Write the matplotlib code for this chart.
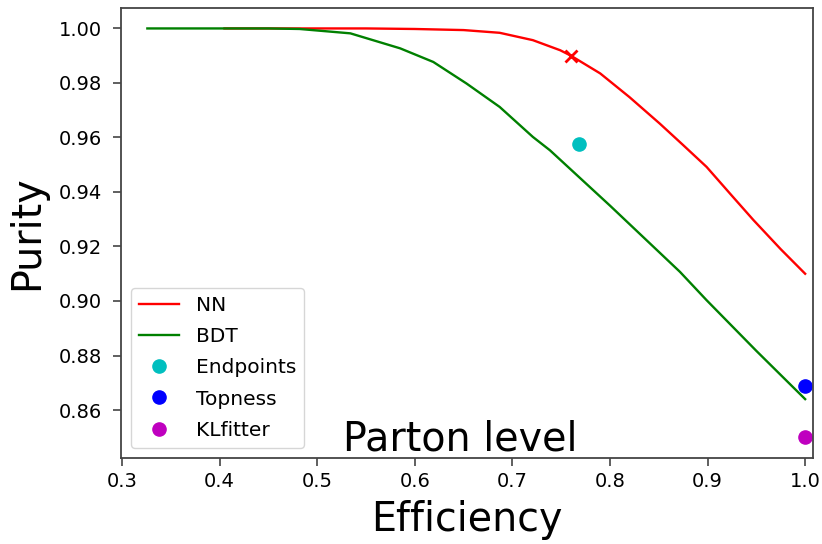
import matplotlib
matplotlib.use('Agg')
import matplotlib.pyplot as plt

###### curvas de eficiencia x pureza ######
eff_nn = [0.405, 0.45, 0.50, 0.55, 0.60, 0.65, 0.687, 0.721, 0.749, 0.760,
          0.790, 0.820, 0.851, 0.875, 0.899, 0.925, 0.947, 0.975, 1.0]
pur_nn = [1.0, 1.0, 1.0, 1.0, 0.9998, 0.9994, 0.9984, 0.9957, 0.992, 0.990,
          0.9835, 0.9748, 0.9651, 0.9572, 0.9492, 0.9386, 0.9297, 0.919, 0.910]

eff_bdt = [0.326, 0.40, 0.45, 0.482, 0.534, 0.585, 0.619, 0.653, 0.687,
           0.721, 0.7385, 0.80, 0.8717, 0.899, 0.95, 1.0]
pur_bdt = [1.0, 1.0, 1.0, 0.9998, 0.9982, 0.9927, 0.9877, 0.9798, 0.9712,
           0.9602, 0.9553, 0.935, 0.9107, 0.9003, 0.8817, 0.864]

###### ponto de trabalho do NN ######
nn_wp = (0.760, 0.990)

###### outros metodos ######
metodos = ['Endpoints', 'Topness', 'KLfitter']
eff_metodos = [0.768, 1.0, 1.0]
pur_metodos = [0.9577, 0.8688, 0.850]
cores_metodos = ['c', 'b', 'm']

fig = plt.figure(figsize=(8.22, 5.44), dpi=100)
ax = fig.add_axes([0.1472, 0.1586, 0.8418, 0.8267])

ax.plot(eff_nn, pur_nn, color='r', lw=1.7, label='NN')
ax.plot(eff_bdt, pur_bdt, color='g', lw=1.7, label='BDT')
ax.plot(nn_wp[0], nn_wp[1], 'rx', ms=9, mew=2)
for nome, e, p, c in zip(metodos, eff_metodos, pur_metodos, cores_metodos):
    ax.plot(e, p, 'o', color=c, ms=9.5, label=nome)

ax.set_xlim(0.299, 1.008)
ax.set_xticks([0.3, 0.4, 0.5, 0.6, 0.7, 0.8, 0.9, 1.0])
for s in ax.spines.values():
    s.set_color('#444444')
    s.set_linewidth(1.3)
ax.tick_params(axis='both', labelsize=14, length=5.5, width=1.2, color='#444444')
ax.tick_params(axis='x', pad=4.5)
ax.tick_params(axis='y', pad=8.5)
ax.set_xlabel('Efficiency', fontsize=28.5, labelpad=6.5)
ax.set_ylabel('Purity', fontsize=28.5, labelpad=8)
ax.text(0.5264, 0.8452, 'Parton level', fontsize=28.5)
ax.legend(loc='lower left', fontsize=14.5, labelspacing=0.6)

fig.savefig('out.png')
